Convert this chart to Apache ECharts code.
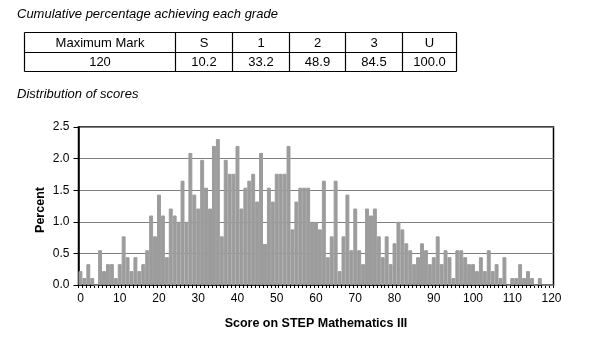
<!DOCTYPE html>
<html><head><meta charset="utf-8">
<script src="https://cdn.jsdelivr.net/npm/echarts@6/dist/echarts.min.js"></script>
<style>html,body{margin:0;padding:0;background:#fff}#c{width:597px;height:357px}</style>
</head><body><div id="c"></div>
<script>
// ---- data ----
const scoreCategories = [];
for (let s = 0; s <= 120; s++) scoreCategories.push(String(s));
const percentValues = [
  0.22,0.11,0.33,0.11,0.00,0.55,0.22,0.33,0.33,0.11,
  0.33,0.77,0.44,0.22,0.44,0.22,0.33,0.55,1.10,0.77,
  1.43,1.10,0.44,1.21,1.10,1.00,1.65,1.00,2.09,1.43,
  1.21,1.98,1.54,1.21,2.20,2.31,0.77,1.98,1.76,1.76,
  2.20,1.21,1.54,1.65,1.76,1.32,2.09,0.65,1.54,1.32,
  1.76,1.76,1.76,2.20,0.88,1.32,1.54,1.54,1.54,1.00,
  1.00,0.88,1.65,0.44,0.77,1.65,0.22,0.77,1.43,0.55,
  1.21,0.55,0.33,1.21,1.10,1.21,0.77,0.44,0.77,0.33,
  0.66,1.00,0.88,0.66,0.55,0.33,0.44,0.66,0.55,0.33,
  0.44,0.77,0.33,0.55,0.44,0.11,0.55,0.55,0.44,0.33,
  0.33,0.22,0.44,0.22,0.55,0.22,0.33,0.11,0.44,0.00,
  0.11,0.11,0.33,0.11,0.22,0.11,0.00,0.11,0.00,0.00,
  0.00
];
const gradeHeaders = ['Maximum Mark', 'S', '1', '2', '3', 'U'];
const gradeCumulative = ['120', '10.2', '33.2', '48.9', '84.5', '100.0'];
const tableTitle = 'Cumulative percentage achieving each grade';
const chartTitle = 'Distribution of scores';
const xAxisTitle = 'Score on STEP Mathematics III';
const yAxisTitle = 'Percent';

// ---- layout ----
const FONT = '"Liberation Sans", Arial, sans-serif';
const colX = [24.5, 175.5, 232.5, 289.5, 345.5, 402.5, 456.5];
const rowY = [32.5, 52.5, 71.5];

const graphics = [];
graphics.push({type:'text', left: 17, top: 8, style:{text: tableTitle, font: 'italic 13px ' + FONT, fill:'#000'}});
graphics.push({type:'text', left: 17, top: 88, style:{text: chartTitle, font: 'italic 13px ' + FONT, fill:'#000'}});
rowY.forEach(y => graphics.push({type:'line', shape:{x1: colX[0], y1: y, x2: colX[colX.length-1], y2: y}, style:{stroke:'#000', lineWidth:1.2}}));
colX.forEach(x => graphics.push({type:'line', shape:{x1: x, y1: rowY[0], x2: x, y2: rowY[2]}, style:{stroke:'#000', lineWidth:1.2}}));
[gradeHeaders, gradeCumulative].forEach((row, r) => {
  row.forEach((t, i) => {
    graphics.push({type:'text', x: (colX[i] + colX[i+1]) / 2, y: (rowY[r] + rowY[r+1]) / 2 + 0.5,
      style:{text: t, font: '13px ' + FONT, fill:'#000', align:'center', verticalAlign:'middle'}});
  });
});
graphics.push({type:'text', x: 41, y: 210, rotation: Math.PI/2,
  style:{text: yAxisTitle, font: 'bold 12.5px ' + FONT, fill:'#000', align:'center', verticalAlign:'middle'}});

const chart = echarts.init(document.getElementById('c'), null, {renderer:'canvas'});
chart.setOption({
  animation: false,
  backgroundColor: '#fff',
  grid: {left: 78.5, top: 127, width: 475, height: 158, show: true, borderColor: '#000', borderWidth: 1.5, containLabel: false},
  xAxis: {
    type: 'category', data: scoreCategories, boundaryGap: true,
    axisLine: {show: true, lineStyle: {color: '#000', width: 1.5}},
    axisTick: {show: true, interval: 0, length: 3, lineStyle: {color: '#000', width: 1}},
    axisLabel: {interval: 9, fontSize: 12, fontFamily: FONT, color: '#000', margin: 8},
    splitLine: {show: false},
    name: xAxisTitle, nameLocation: 'middle', nameGap: 32,
    nameTextStyle: {fontSize: 12.5, fontWeight: 'bold', fontFamily: FONT, color: '#000'}
  },
  yAxis: {
    type: 'value', min: 0, max: 2.5, interval: 0.5,
    axisLine: {show: true, lineStyle: {color: '#000', width: 1.5}},
    axisTick: {show: true, length: 5, lineStyle: {color: '#000', width: 1}},
    axisLabel: {fontSize: 12, fontFamily: FONT, color: '#000', margin: 9, formatter: v => v.toFixed(1)},
    splitLine: {show: true, lineStyle: {color: '#808080', width: 1.2}}
  },
  series: [{
    type: 'bar', data: percentValues, barCategoryGap: '0%', barGap: 0,
    itemStyle: {color: '#9c9c9c', borderColor: '#9c9c9c', borderWidth: 1}, silent: true
  }],
  graphic: graphics
});
</script>
</body></html>
